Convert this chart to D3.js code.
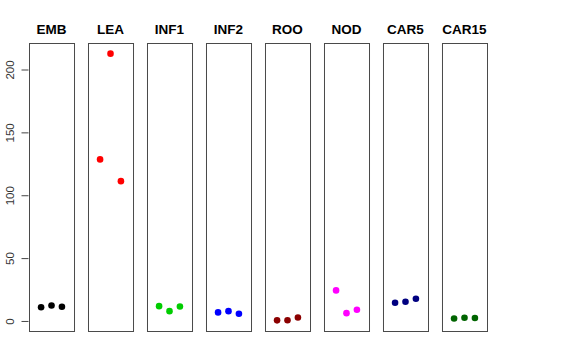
<!DOCTYPE html>
<html>
<head>
  <script src="https://d3js.org/d3.v7.min.js"></script>
  <style>
    body { margin: 0; background: #fff; }
    text { font-family: "Liberation Sans", Arial, sans-serif; }
  </style>
</head>
<body>
<div id="chart"></div>
<script>
  // tissue groups, three replicates each
  var tissues = ['EMB', 'LEA', 'INF1', 'INF2', 'ROO', 'NOD', 'CAR5', 'CAR15'];
  var colors = ['#000000', '#ff0000', '#00cd00', '#0000ff', '#8b0000', '#ff00ff', '#000080', '#006400'];
  var rep1 = [10.9, 128.5, 11.8, 6.8, 0.5, 24.3, 14.5, 2.0];
  var rep2 = [12.3, 212.6, 7.8, 7.8, 0.6, 6.2, 15.3, 2.5];
  var rep3 = [11.3, 111.2, 11.5, 5.7, 2.8, 8.9, 17.7, 2.3];
  var yTicks = [0, 50, 100, 150, 200];

  var width = 576, height = 360;
  var svg = d3.select('#chart').append('svg')
    .attr('width', width)
    .attr('height', height);

  var points = [];
  tissues.forEach(function(t, i) {
    [rep1, rep2, rep3].forEach(function(r, j) {
      points.push({ tissue: t, rep: j + 1, value: r[i], color: colors[i] });
    });
  });

  var lo = d3.min(points, function(d) { return d.value; });
  var hi = d3.max(points, function(d) { return d.value; });
  var pad = (hi - lo) * 0.04;

  var panel = d3.scaleBand()
    .domain(tissues)
    .range([29, 487])
    .paddingInner(0.237)
    .paddingOuter(0);

  var y = d3.scaleLinear()
    .domain([lo - pad, hi + pad])
    .range([331, 43]);

  var x = d3.scaleLinear()
    .domain([-0.16, 4.16])
    .range([0, panel.bandwidth()]);

  var panels = svg.selectAll('.panel')
    .data(tissues)
    .enter()
    .append('g')
    .attr('class', 'panel')
    .attr('transform', function(d) { return 'translate(' + panel(d) + ',0)'; });

  panels.append('rect')
    .attr('x', 0.5)
    .attr('y', 43.5)
    .attr('width', panel.bandwidth())
    .attr('height', 331 - 43)
    .attr('fill', 'none')
    .attr('stroke', '#4a4a4a')
    .attr('stroke-width', 1);

  panels.append('text')
    .attr('x', panel.bandwidth() / 2)
    .attr('y', 34)
    .attr('text-anchor', 'middle')
    .attr('font-size', '13.5px')
    .attr('font-weight', 'bold')
    .attr('fill', '#000')
    .text(function(d) { return d; });

  panels.selectAll('circle')
    .data(function(t) { return points.filter(function(p) { return p.tissue === t; }); })
    .enter()
    .append('circle')
    .attr('cx', function(d) { return x(d.rep); })
    .attr('cy', function(d) { return y(d.value); })
    .attr('r', 3.3)
    .attr('fill', function(d) { return d.color; });

  // y axis on the first panel
  var yAxis = svg.append('g')
    .attr('transform', 'translate(28.5,0)')
    .call(d3.axisLeft(y).tickValues(yTicks).tickSize(7).tickPadding(8));
  yAxis.select('.domain').remove();
  yAxis.selectAll('line').attr('stroke', '#444');
  yAxis.selectAll('text')
    .attr('font-size', '11.5px')
    .attr('fill', '#333')
    .attr('font-family', '"Liberation Sans", Arial, sans-serif')
    .attr('text-anchor', 'middle')
    .attr('dy', null)
    .attr('x', null)
    .attr('transform', 'translate(-15,0) rotate(-90)')
    .attr('y', 0);
</script>
</body>
</html>
